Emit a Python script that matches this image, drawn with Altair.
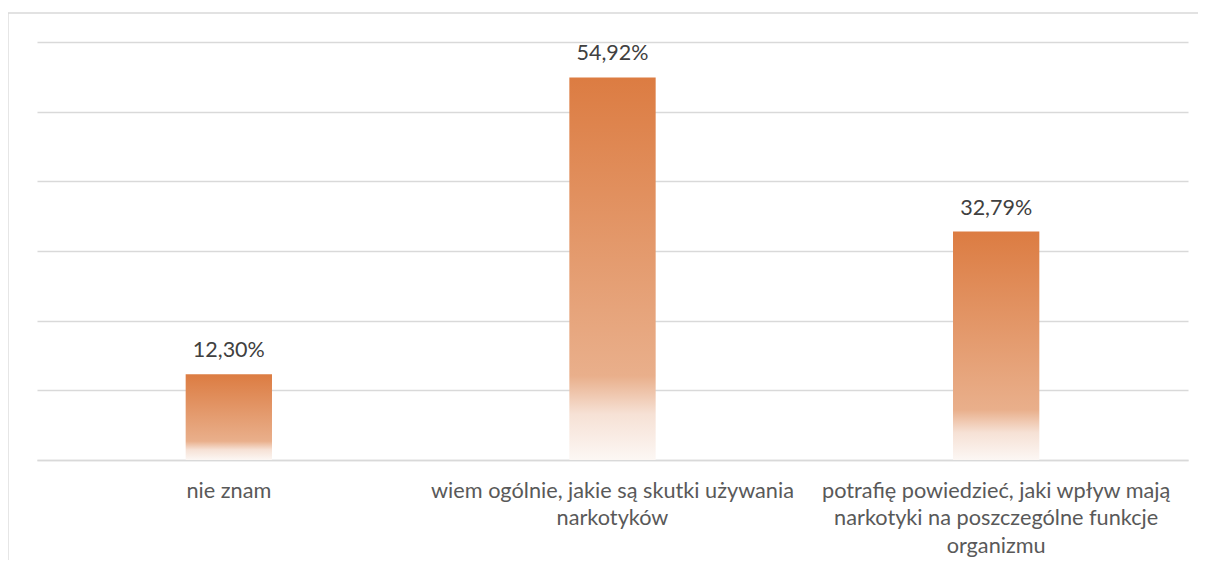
import altair as alt
import pandas as pd

categories = [
    "nie znam",
    "wiem ogólnie, jakie są skutki używania\nnarkotyków",
    "potrafię powiedzieć, jaki wpływ mają\nnarkotyki na poszczególne funkcje\norganizmu",
]
values = [12.30, 54.92, 32.79]
value_labels = ["12,30%", "54,92%", "32,79%"]

df = pd.DataFrame({"cat": categories, "val": values, "lab": value_labels})

FONT = "Lato"
W, H = 1151, 418

gradient = alt.Gradient(
    gradient="linear",
    x1=0, x2=0, y1=0, y2=1,
    stops=[
        alt.GradientStop(color="#DC7C42", offset=0),
        alt.GradientStop(color="#E9AF8B", offset=0.78),
        alt.GradientStop(color="#F6E1D5", offset=0.88),
        alt.GradientStop(color="#FCF7F4", offset=1),
    ],
)

xenc = alt.X(
    "cat:N",
    sort=categories,
    title=None,
    axis=alt.Axis(
        labelAngle=0,
        labelExpr="split(datum.label, '\\n')",
        labelFont=FONT,
        labelFontSize=21.7,
        labelColor="#595959",
        labelLineHeight=27.8,
        labelBaseline="middle",
        labelPadding=30,
        labelLimit=0,
        ticks=False,
        domainColor="#D9D9D9",
        domainWidth=1.3,
        grid=False,
    ),
    scale=alt.Scale(paddingInner=0.775, paddingOuter=0.3875),
)

yenc = alt.Y(
    "val:Q",
    title=None,
    scale=alt.Scale(domain=[0, 60], nice=False),
    axis=alt.Axis(
        values=[0, 10, 20, 30, 40, 50, 60],
        labels=False,
        ticks=False,
        domain=False,
        grid=True,
        gridColor="#D9D9D9",
        gridWidth=1.3,
    ),
)

border_df = pd.DataFrame({"k": [0]})
top_border = alt.Chart(border_df).mark_rule(color="#D9D9D9", strokeWidth=1.3).encode(
    x=alt.value(-29), x2=alt.value(W + 60), y=alt.value(-29)
)
left_border = alt.Chart(border_df).mark_rule(color="#D9D9D9", strokeWidth=1.3).encode(
    x=alt.value(-29), y=alt.value(-29), y2=alt.value(H + 200)
)

bars = alt.Chart(df).mark_bar(color=gradient).encode(x=xenc, y=yenc)

text = alt.Chart(df).mark_text(
    baseline="alphabetic", dy=-17, font=FONT, fontSize=21.5, color="#404040"
).encode(x=alt.X("cat:N", sort=categories), y="val:Q", text="lab:N")

chart = (
    alt.layer(top_border, left_border, bars, text)
    .properties(
        width=W,
        height=H,
        padding={"left": 29, "top": 34, "right": 10, "bottom": 100},
        autosize=alt.AutoSizeParams(type="none"),
    )
    .configure_view(stroke=None)
)

chart.save("out.html", embed_options={"renderer": "svg", "actions": False})
